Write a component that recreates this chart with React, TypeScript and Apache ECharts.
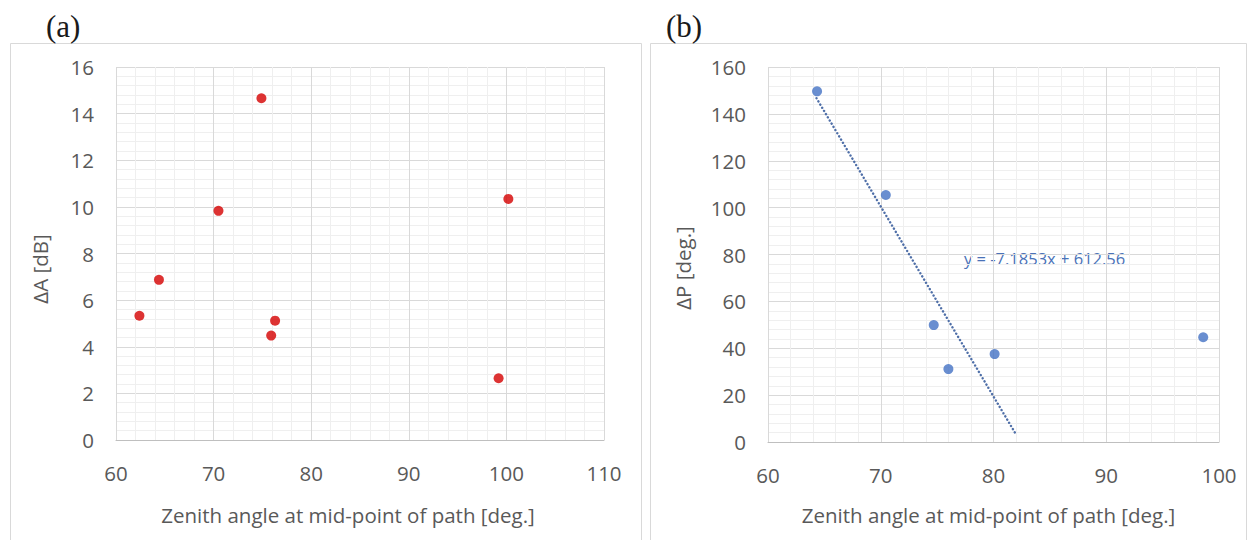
import React, { useEffect, useRef } from "react";
import * as echarts from "echarts";

// Panel (a): ΔA vs zenith angle
const zenithA = [62.4, 64.4, 70.5, 74.9, 75.9, 76.3, 99.2, 100.2];
const deltaA = [5.33, 6.87, 9.83, 14.66, 4.48, 5.12, 2.65, 10.34];

// Panel (b): ΔP vs zenith angle
const zenithP = [64.35, 70.45, 74.7, 76.0, 80.1, 98.6];
const deltaP = [149.6, 105.4, 49.9, 31.1, 37.5, 44.7];

// Trendline as drawn in panel (b)
const trendX = [64.3, 82.0];
const trendY = [146.7, 3.2];
const trendLabel = "y = -7.1853x + 612.56";

const xTitle = "Zenith angle at mid-point of path [deg.]";
const yTitleA = "ΔA [dB]";
const yTitleP = "ΔP [deg.]";

const FONT = "'Open Sans', 'Noto Sans', sans-serif";
const TXT = "#595959";
const MAJOR = "#d9d9d9";
const MINOR = "#efefef";
const TICK_FS = 20.5;
const TITLE_FS = 20.5;

function valueAxis(extra: any) {
  return {
    type: "value",
    axisTick: { show: false },
    axisLine: { show: false },
    splitLine: { show: true, lineStyle: { color: MAJOR, width: 1 } },
    minorTick: { show: false, splitNumber: 5 },
    minorSplitLine: { show: true, lineStyle: { color: MINOR, width: 1 } },
    axisLabel: { color: TXT, fontFamily: FONT, fontSize: TICK_FS, margin: 22 },
    ...extra,
  };
}

export default function App() {
  const ref = useRef<HTMLDivElement>(null);
  useEffect(() => {
    document.body.style.margin = "0";
    if (!ref.current) return;
    const chart = echarts.init(ref.current, null, { renderer: "svg" });
    chart.setOption({
      animation: false,
      backgroundColor: "#ffffff",
      grid: [
        { left: 116, right: 644, top: 67, bottom: 100 },
        { left: 768, right: 29, top: 67, bottom: 98 },
      ],
      xAxis: [
        valueAxis({
          gridIndex: 0,
          min: 60,
          max: 110,
          interval: 10,
          axisLine: { show: true, lineStyle: { color: "#bfbfbf" } },
          axisLabel: { color: TXT, fontFamily: FONT, fontSize: TICK_FS, margin: 22 },
          name: xTitle,
          nameLocation: "middle",
          nameGap: 64,
          nameTextStyle: { color: TXT, fontFamily: FONT, fontSize: TITLE_FS, padding: [0, 24, 0, 0] },
        }),
        valueAxis({
          gridIndex: 1,
          min: 60,
          max: 100,
          interval: 10,
          axisLine: { show: true, lineStyle: { color: "#bfbfbf" } },
          axisLabel: { color: TXT, fontFamily: FONT, fontSize: TICK_FS, margin: 22 },
          name: xTitle,
          nameLocation: "middle",
          nameGap: 62,
          nameTextStyle: { color: TXT, fontFamily: FONT, fontSize: TITLE_FS, padding: [0, 10, 0, 0] },
        }),
      ],
      yAxis: [
        valueAxis({ gridIndex: 0, min: 0, max: 16, interval: 2 }),
        valueAxis({ gridIndex: 1, min: 0, max: 160, interval: 20 }),
      ],
      graphic: [
        { type: "rect", shape: { x: 10.5, y: 43.5, width: 631, height: 500 }, style: { fill: "none", stroke: "#d9d9d9", lineWidth: 1 }, z: -1 },
        { type: "rect", shape: { x: 650.5, y: 43.5, width: 596, height: 500 }, style: { fill: "none", stroke: "#d9d9d9", lineWidth: 1 }, z: -1 },
        { type: "text", x: 46, y: 26, style: { text: "(a)", font: "31px 'Liberation Serif', 'DejaVu Serif', serif", fill: "#1a1a1a", verticalAlign: "middle" } },
        { type: "text", x: 666, y: 26, style: { text: "(b)", font: "31px 'Liberation Serif', 'DejaVu Serif', serif", fill: "#1a1a1a", verticalAlign: "middle" } },
        { type: "text", x: 40, y: 269, rotation: Math.PI / 2, style: { text: yTitleA, font: `${TITLE_FS}px ${FONT}`, fill: TXT, align: "center", verticalAlign: "middle" } },
        { type: "text", x: 683, y: 268, rotation: Math.PI / 2, style: { text: yTitleP, font: `${TITLE_FS}px ${FONT}`, fill: TXT, align: "center", verticalAlign: "middle" } },
        { type: "text", x: 964, y: 258, style: { text: trendLabel, font: `16.5px ${FONT}`, fill: "#4a72b8", verticalAlign: "middle" } },
      ],
      series: [
        {
          type: "scatter",
          xAxisIndex: 0,
          yAxisIndex: 0,
          symbolSize: 10,
          itemStyle: { color: "#d40000" },
          data: zenithA.map((x, i) => [x, deltaA[i]]),
        },
        {
          type: "line",
          xAxisIndex: 1,
          yAxisIndex: 1,
          showSymbol: false,
          symbol: "none",
          lineStyle: { color: "#4f6fa8", width: 2.4, type: [0.1, 3.6], cap: "round" },
          data: trendX.map((x, i) => [x, trendY[i]]),
          z: 1,
        },
        {
          type: "scatter",
          xAxisIndex: 1,
          yAxisIndex: 1,
          symbolSize: 10,
          itemStyle: { color: "#4472c4" },
          data: zenithP.map((x, i) => [x, deltaP[i]]),
          z: 3,
        },
      ],
    });
    return () => chart.dispose();
  }, []);
  return <div ref={ref} style={{ width: 1248, height: 540 }} />;
}
